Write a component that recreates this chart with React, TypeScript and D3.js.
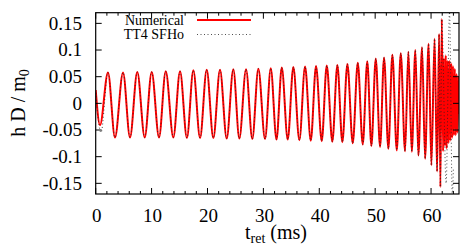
import React from "react";
import * as d3 from "d3";

// extrema of the numerical waveform (t in ms, h D / m0)
const numTimes = [
  0, 0.77, 2.2, 3.45, 4.89, 6.14, 7.44, 8.77, 10.02, 11.33, 12.53, 13.89, 15.09, 16.32,
  17.47, 18.67, 19.86, 21.05, 22.24, 23.44, 24.62, 25.7, 26.9, 28.02, 29.1, 30.3, 31.32,
  32.35, 33.29, 34.36, 35.36, 36.44, 37.46, 38.48, 39.42, 40.44, 41.34, 42.34, 43.24,
  44.13, 45.03, 45.99, 46.89, 47.78, 48.59, 49.32, 50.11, 50.88, 51.59, 52.36, 53.08,
  53.87, 54.58, 55.35, 55.94, 56.55, 57.19, 57.73, 58.39, 58.93, 59.56, 60.06, 60.63,
  61.08, 61.44, 61.67, 61.92,
];
const numValues = [
  0.025, -0.041, 0.058, -0.064, 0.058, -0.064, 0.059, -0.064, 0.059, -0.064, 0.06, -0.064,
  0.06, -0.065, 0.062, -0.065, 0.063, -0.065, 0.063, -0.066, 0.064, -0.066, 0.064, -0.067,
  0.065, -0.067, 0.066, -0.068, 0.067, -0.068, 0.068, -0.069, 0.069, -0.07, 0.07, -0.071,
  0.071, -0.072, 0.072, -0.073, 0.074, -0.075, 0.076, -0.077, 0.079, -0.08, 0.084, -0.082,
  0.086, -0.085, 0.091, -0.088, 0.094, -0.09, 0.097, -0.091, 0.1, -0.098, 0.105, -0.104,
  0.112, -0.116, 0.121, -0.128, 0.13, -0.157, 0.158,
];
// post-merger ringing of the numerical signal
const postTimes = [
  62.15, 62.3, 62.47, 62.63, 62.79, 62.95, 63.12, 63.28, 63.44, 63.6, 63.76, 63.92, 64.08,
  64.25, 64.41, 64.57, 64.73, 64.89, 65.0,
];
const postValues = [
  -0.09, 0.085, -0.08, 0.09, -0.085, 0.08, -0.075, 0.08, -0.07, 0.075, -0.065, 0.07, -0.06,
  0.065, -0.06, 0.055, -0.055, 0.05, -0.02,
];
// TT4 SFHo: own start and end, the inspiral in between lies on the numerical one
const tt4StartTimes = [0, 0.95];
const tt4StartValues = [0.02, -0.055];
const tt4EndTimes = [62.7, 63.3, 63.8, 64.0];
const tt4EndValues = [-0.15, 0.172, -0.172, -0.12];

const xTicks = [0, 10, 20, 30, 40, 50, 60];
const yTicks = [-0.15, -0.1, -0.05, 0, 0.05, 0.1, 0.15];
const yTickLabels = ["-0.15", "-0.1", "-0.05", "0", "0.05", "0.1", "0.15"];

const width = 469;
const height = 248;
const margin = { top: 12.7, right: 10, bottom: 54, left: 95.7 };
const font = "'Liberation Serif', 'Times New Roman', serif";

export default function App() {
  const x = d3.scaleLinear().domain([0, 65]).range([margin.left, width - margin.right]);
  const y = d3.scaleLinear().domain([-0.17, 0.17]).range([height - margin.bottom, margin.top]);

  const numerical = numTimes
    .map((t, i) => [t, numValues[i]])
    .concat(postTimes.map((t, i) => [t, postValues[i]]));
  const tt4 = tt4StartTimes
    .map((t, i) => [t, tt4StartValues[i]])
    .concat(numTimes.slice(2).map((t, i) => [t, numValues[i + 2]]))
    .concat(tt4EndTimes.map((t, i) => [t, tt4EndValues[i]]));

  const line = d3
    .line<number[]>()
    .x((d) => x(d[0]))
    .y((d) => y(d[1]))
    .curve(d3.curveMonotoneX);

  const [x0, x1] = x.range();
  const [y0, y1] = y.range();
  const minor = d3.range(0, 65, 2).filter((v) => v % 10 !== 0);

  return (
    <svg
      width={width}
      height={height}
      style={{ position: "absolute", left: 0, top: 0, background: "#fff" }}
      fontFamily={font}
    >
      <defs>
        <clipPath id="plot">
          <rect x={x0} y={y1} width={x1 - x0} height={y0 - y1} />
        </clipPath>
      </defs>

      <g clipPath="url(#plot)">
        <path d={line(numerical) || ""} fill="none" stroke="#ff0000" strokeWidth={2} />
        <path
          d={line(tt4) || ""}
          fill="none"
          stroke="#222"
          strokeWidth={0.8}
          strokeDasharray="1,2.5"
        />
      </g>

      {/* ticks, mirrored on all four sides */}
      <g stroke="#000" strokeWidth={1}>
        {xTicks.map((v) => (
          <g key={"xt" + v}>
            <line x1={x(v)} x2={x(v)} y1={y0} y2={y0 - 6} />
            <line x1={x(v)} x2={x(v)} y1={y1} y2={y1 + 6} />
          </g>
        ))}
        {minor.map((v) => (
          <g key={"xm" + v}>
            <line x1={x(v)} x2={x(v)} y1={y0} y2={y0 - 3} />
            <line x1={x(v)} x2={x(v)} y1={y1} y2={y1 + 3} />
          </g>
        ))}
        {yTicks.map((v) => (
          <g key={"yt" + v}>
            <line x1={x0} x2={x0 + 6} y1={y(v)} y2={y(v)} />
            <line x1={x1} x2={x1 - 6} y1={y(v)} y2={y(v)} />
          </g>
        ))}
      </g>
      <rect x={x0} y={y1} width={x1 - x0} height={y0 - y1} fill="none" stroke="#000" strokeWidth={1.2} />

      <g fontSize={19} fill="#000">
        {xTicks.map((v) => (
          <text key={"xl" + v} x={x(v) + 1} y={221.5} textAnchor="middle">
            {v}
          </text>
        ))}
        {yTicks.map((v, i) => (
          <text key={"yl" + v} x={82} y={y(v)} dy="0.34em" textAnchor="end">
            {yTickLabels[i]}
          </text>
        ))}
      </g>

      <text x={276} y={239} fontSize={20} textAnchor="middle">
        t<tspan fontSize={14} dy={4}>ret</tspan>
        <tspan dy={-4}> (ms)</tspan>
      </text>
      <text transform="translate(25,103) rotate(-90)" fontSize={20} textAnchor="middle">
        h D / m<tspan fontSize={14} dy={4}>0</tspan>
      </text>

      {/* legend */}
      <g fontSize={14}>
        <text x={184} y={24.5} textAnchor="end">Numerical</text>
        <line x1={197} x2={251} y1={20} y2={20} stroke="#ff0000" strokeWidth={2} />
        <text x={184} y={39} textAnchor="end">TT4 SFHo</text>
        <line x1={197} x2={251} y1={34.5} y2={34.5} stroke="#222" strokeWidth={0.8} strokeDasharray="1,2.5" />
      </g>
    </svg>
  );
}
